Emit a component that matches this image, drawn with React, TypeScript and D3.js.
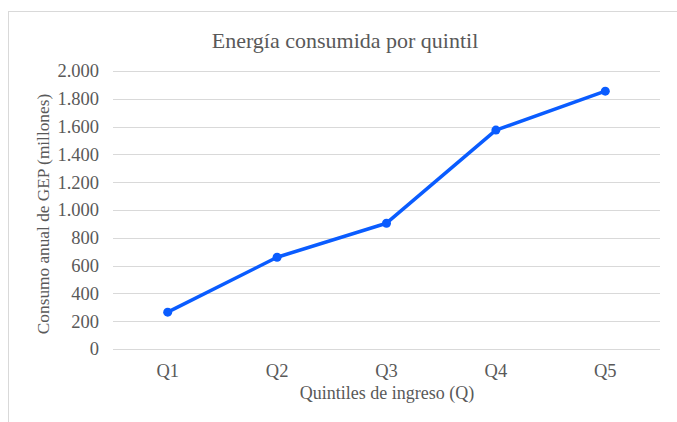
import { useEffect, useRef } from "react";
import * as d3 from "d3";

const categories = ["Q1", "Q2", "Q3", "Q4", "Q5"];
const values = [265, 660, 905, 1575, 1855];
const yTicks = [0, 200, 400, 600, 800, 1000, 1200, 1400, 1600, 1800, 2000];

const W = 677;
const H = 422;
const FONT = "Liberation Serif, Times New Roman, serif";
const TEXT = "#595959";

const App = () => {
    const svgRef = useRef<SVGSVGElement>(null);

    useEffect(() => {
        document.body.style.margin = "0";
        const svg = d3.select(svgRef.current);
        svg.selectAll("*").remove();

        const x = d3.scaleBand().domain(categories).range([113, 660]);
        const y = d3.scaleLinear().domain([0, 2000]).range([349, 71]);

        // chart frame (only left and top visible)
        svg.append("rect")
            .attr("x", 8.5).attr("y", 11.5)
            .attr("width", W + 10).attr("height", H + 10)
            .attr("fill", "#fff").attr("stroke", "#d9d9d9");

        // gridlines
        svg.selectAll(".grid")
            .data(yTicks)
            .join("line")
            .attr("class", "grid")
            .attr("x1", 113).attr("x2", 660)
            .attr("y1", d => Math.round(y(d)) + 0.5)
            .attr("y2", d => Math.round(y(d)) + 0.5)
            .attr("stroke", "#d9d9d9")
            .attr("stroke-width", 1);

        // y tick labels
        const fmt = (v: number) => d3.format(",")(v).replace(/,/g, ".");
        svg.selectAll(".ylab")
            .data(yTicks)
            .join("text")
            .attr("class", "ylab")
            .attr("x", 99)
            .attr("y", d => y(d))
            .attr("dy", "0.35em")
            .attr("text-anchor", "end")
            .attr("font-family", FONT).attr("font-size", 18.5)
            .attr("fill", TEXT)
            .text(d => fmt(d));

        // x tick labels
        svg.selectAll(".xlab")
            .data(categories)
            .join("text")
            .attr("class", "xlab")
            .attr("x", d => x(d)! + x.bandwidth() / 2)
            .attr("y", 377)
            .attr("text-anchor", "middle")
            .attr("font-family", FONT).attr("font-size", 18.5)
            .attr("fill", TEXT)
            .text(d => d);

        // line
        const line = d3.line<number>()
            .x((d, i) => x(categories[i])! + x.bandwidth() / 2)
            .y(d => y(d));
        svg.append("path")
            .datum(values)
            .attr("d", line)
            .attr("fill", "none")
            .attr("stroke", "#0a5cff")
            .attr("stroke-width", 3.5)
            .attr("stroke-linejoin", "round");

        svg.selectAll(".dot")
            .data(values)
            .join("circle")
            .attr("class", "dot")
            .attr("cx", (d, i) => x(categories[i])! + x.bandwidth() / 2)
            .attr("cy", d => y(d))
            .attr("r", 4.5)
            .attr("fill", "#0a5cff");

        // titles
        svg.append("text")
            .attr("x", 345).attr("y", 48)
            .attr("text-anchor", "middle")
            .attr("font-family", FONT).attr("font-size", 22)
            .attr("fill", TEXT)
            .text("Energía consumida por quintil");

        svg.append("text")
            .attr("x", 387).attr("y", 399)
            .attr("text-anchor", "middle")
            .attr("font-family", FONT).attr("font-size", 18)
            .attr("fill", TEXT)
            .text("Quintiles de ingreso (Q)");

        svg.append("text")
            .attr("transform", "translate(49,214) rotate(-90)")
            .attr("text-anchor", "middle")
            .attr("font-family", FONT).attr("font-size", 17.3)
            .attr("fill", TEXT)
            .text("Consumo anual de GEP (millones)");
    }, []);

    return <svg ref={svgRef} width={W} height={H} style={{ display: "block" }}></svg>;
};

export default App;
